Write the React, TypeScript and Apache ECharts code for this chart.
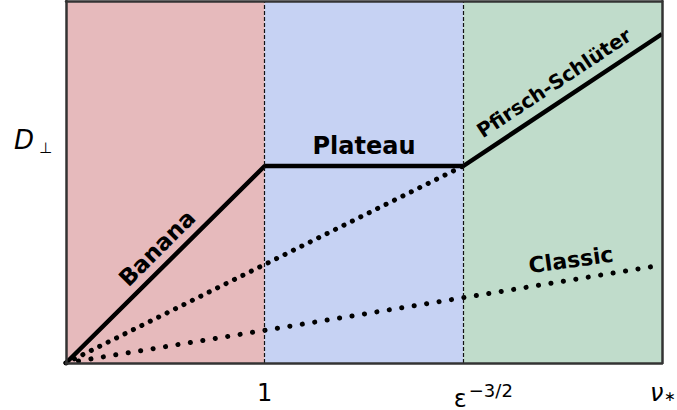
import React, { useEffect, useRef } from "react";
import * as echarts from "echarts";

// regime boundaries on the normalized collisionality axis
const regionBounds = [0, 1, 2, 3];
const regionColors = ["#e6babc", "#c6d2f3", "#c0dccb"];
// solid transport curve: banana -> plateau -> Pfirsch-Schlüter
const solidCurve: [number, number][] = [
  [0, 0],
  [1, 1.97],
  [2, 1.97],
  [3, 3.29],
];
// dotted extrapolation of banana scaling
const bananaExtrap: [number, number][] = [
  [0, 0],
  [2, 1.97],
];
// classical transport
const classicCurve: [number, number][] = [
  [0, 0],
  [3, 0.98],
];
const yMax = 3.62;
const tickLabels: Record<number, string> = {
  1: "{n|1}",
  2: "{g| }{e|ε}{s|−3/2}",
  3: "{v|ν}{a|∗}",
};

const FONT = "DejaVu Sans";

export default function App() {
  const ref = useRef<HTMLDivElement>(null);
  useEffect(() => {
    if (!ref.current) return;
    document.body.style.margin = "0";
    const chart = echarts.init(ref.current, undefined, { renderer: "svg" });
    const frame = { show: true, onZero: false, lineStyle: { color: "#333", width: 2.5 } };
    const hidden = { show: false };
    chart.setOption({
      animation: false,
      grid: { left: 66, right: 15, top: 1, bottom: 47, outerBoundsMode: "none", containLabel: false },
      xAxis: [
        {
          type: "value",
          min: 0,
          max: 3,
          interval: 1,
          z: 10,
          axisLine: frame,
          axisTick: hidden,
          splitLine: hidden,
          axisLabel: {
            margin: 18,
            formatter: (v: number) => tickLabels[v] ?? "",
            rich: {
              n: { fontFamily: FONT, fontSize: 24, color: "#000" },
              g: { fontFamily: FONT, fontSize: 24, width: 40 },
              e: { fontFamily: FONT, fontSize: 24, color: "#000", padding: [0, 2, 0, 0] },
              s: { fontFamily: FONT, fontSize: 18, color: "#000", padding: [0, 0, 18, 0] },
              v: { fontFamily: FONT, fontSize: 24, fontStyle: "italic", color: "#000", padding: [0, 0, 0, 2] },
              a: { fontFamily: FONT, fontSize: 14, color: "#000", padding: [6, 0, 0, 1] },
            },
          },
        },
        {
          type: "value",
          position: "top",
          min: 0,
          max: 3,
          z: 10,
          axisLine: frame,
          axisTick: hidden,
          axisLabel: hidden,
          splitLine: hidden,
        },
      ],
      yAxis: [
        {
          type: "value",
          min: 0,
          max: yMax,
          z: 10,
          axisLine: frame,
          axisTick: hidden,
          axisLabel: hidden,
          splitLine: hidden,
        },
        {
          type: "value",
          position: "right",
          min: 0,
          max: yMax,
          z: 10,
          axisLine: frame,
          axisTick: hidden,
          axisLabel: hidden,
          splitLine: hidden,
        },
      ],
      series: [
        {
          type: "line",
          data: [],
          z: 1,
          markArea: {
            silent: true,
            data: regionColors.map((c, i) => [
              { xAxis: regionBounds[i], itemStyle: { color: c, opacity: 1 } },
              { xAxis: regionBounds[i + 1] },
            ]),
          },
          markLine: {
            silent: true,
            symbol: "none",
            label: { show: false },
            lineStyle: { color: "#111", width: 1.2, type: [4, 2] },
            data: [{ xAxis: regionBounds[1] }, { xAxis: regionBounds[2] }],
          },
        },
        {
          type: "line",
          data: bananaExtrap,
          showSymbol: false,
          z: 3,
          lineStyle: { color: "#000", width: 5, type: [0.1, 9.3], cap: "round" },
        },
        {
          type: "line",
          data: classicCurve,
          showSymbol: false,
          z: 3,
          lineStyle: { color: "#000", width: 5, type: [0.1, 12.5], cap: "round" },
        },
        {
          type: "line",
          data: solidCurve,
          showSymbol: false,
          z: 4,
          lineStyle: { color: "#000", width: 4.5 },
        },
      ],
      graphic: [
        {
          type: "text",
          x: 157,
          y: 248,
          z: 100,
          rotation: Math.PI / 4,
          style: {
            text: "Banana",
            fontFamily: FONT,
            fontWeight: "bold",
            fontSize: 23,
            fill: "#000",
            align: "center",
            verticalAlign: "middle",
          },
        },
        {
          type: "text",
          x: 364,
          y: 146,
          z: 100,
          style: {
            text: "Plateau",
            fontFamily: FONT,
            fontWeight: "bold",
            fontSize: 24,
            fill: "#000",
            align: "center",
            verticalAlign: "middle",
          },
        },
        {
          type: "text",
          x: 554,
          y: 83,
          z: 100,
          rotation: (33.5 * Math.PI) / 180,
          style: {
            text: "Pfirsch-Schlüter",
            fontFamily: FONT,
            fontWeight: "bold",
            fontSize: 20,
            fill: "#000",
            align: "center",
            verticalAlign: "middle",
          },
        },
        {
          type: "text",
          x: 571,
          y: 260,
          z: 100,
          rotation: (8 * Math.PI) / 180,
          style: {
            text: "Classic",
            fontFamily: FONT,
            fontWeight: "bold",
            fontSize: 22,
            fill: "#000",
            align: "center",
            verticalAlign: "middle",
          },
        },
        {
          type: "text",
          x: 14,
          y: 124,
          z: 100,
          style: {
            text: "{d|D}{p|⊥}",
            rich: {
              d: { fontFamily: FONT, fontStyle: "italic", fontSize: 26, fill: "#000" },
              p: { fontFamily: FONT, fontSize: 15, fill: "#000", padding: [16, 0, 0, 5] },
            },
          },
        },
      ],
    });
    return () => chart.dispose();
  }, []);
  return <div ref={ref} style={{ width: 677, height: 410 }} />;
}
